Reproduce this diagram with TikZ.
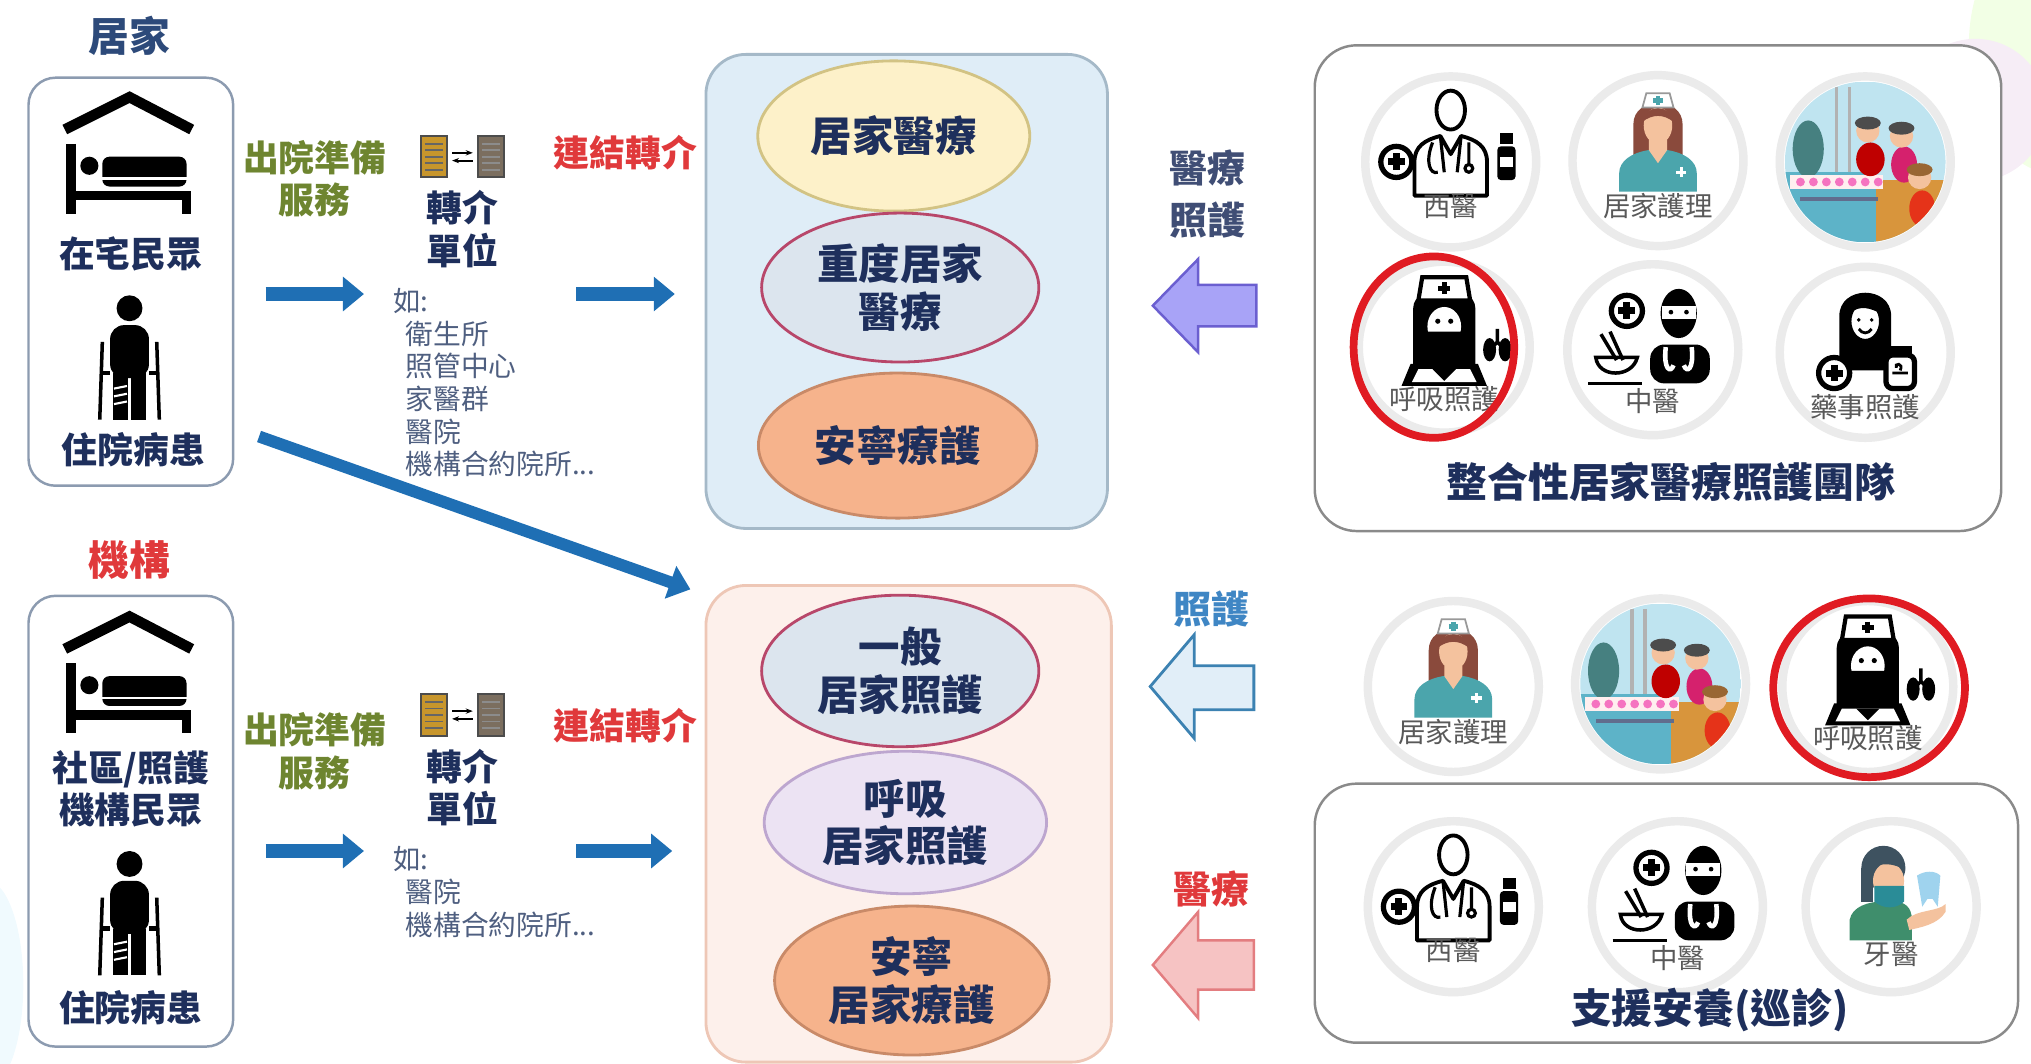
\documentclass[tikz,border=0pt]{standalone}
\usepackage{fontspec}
\setmainfont{Noto Sans CJK TC}
\usetikzlibrary{arrows.meta,shapes.geometric}

\definecolor{navy}{HTML}{1E2F5C}
\definecolor{titleblue}{HTML}{2D4A7A}
\definecolor{instred}{HTML}{E0393B}
\definecolor{olive}{HTML}{6E8530}
\definecolor{flowblue}{HTML}{1F6FB4}
\definecolor{listgrey}{HTML}{4F5F80}
\definecolor{boxline}{HTML}{8C9BB0}
\definecolor{medfill}{HTML}{DFEDF7}
\definecolor{medline}{HTML}{A5B9C8}
\definecolor{carefill}{HTML}{FDF0EB}
\definecolor{careline}{HTML}{EEC7B6}
\definecolor{ovyellow}{HTML}{FDF1C9}
\definecolor{ovyellowline}{HTML}{D2C384}
\definecolor{ovgrey}{HTML}{DCE5EE}
\definecolor{ovred}{HTML}{B8476A}
\definecolor{ovsalmon}{HTML}{F6B38C}
\definecolor{ovsalmonline}{HTML}{C98A68}
\definecolor{ovlilac}{HTML}{ECE3F3}
\definecolor{ovlilacline}{HTML}{BDA6CF}
\definecolor{arrpurple}{HTML}{A8A3F7}
\definecolor{arrpurpleline}{HTML}{6B5FD0}
\definecolor{arrblue}{HTML}{E1EEF8}
\definecolor{arrblueline}{HTML}{3C82B2}
\definecolor{arrpink}{HTML}{F6C3C3}
\definecolor{arrpinkline}{HTML}{E37D80}
\definecolor{careblue}{HTML}{3F86C4}
\definecolor{teamline}{HTML}{8A8A8A}
\definecolor{badgeline}{HTML}{EBEBEB}
\definecolor{ringred}{HTML}{E01B22}
\definecolor{skin}{HTML}{F4C29E}
\definecolor{hairbrown}{HTML}{8A4A3C}
\definecolor{scrubteal}{HTML}{4BA5AC}
\definecolor{docgold}{HTML}{C8962C}
\definecolor{docgrey}{HTML}{7B6E5F}
\definecolor{famsky}{HTML}{BFE4F0}
\definecolor{famteal}{HTML}{5DB3C8}
\definecolor{famorange}{HTML}{D8953C}
\definecolor{denthair}{HTML}{3E5260}
\definecolor{dentgreen}{HTML}{3F8E6C}
\definecolor{dentmask}{HTML}{2A8C97}
\definecolor{toothblue}{HTML}{9FD3EE}

\begin{document}
\begin{tikzpicture}[
        x=0.012953cm, y=-0.012953cm,
        >={Triangle[length=6pt,width=9.5pt]},
        every node/.style={align=center, inner sep=0pt},
        lbl/.style={font=\bfseries\fontsize{10.2}{12.2}\selectfont, text=navy},
        head/.style={font=\bfseries\fontsize{11.6}{13}\selectfont},
        listtext/.style={font=\fontsize{7.9}{9.3}\selectfont, text=listgrey, align=left},
        ovaltext/.style={font=\bfseries\fontsize{11.8}{13.6}\selectfont, text=navy},
        iconlabel/.style={font=\fontsize{7.8}{9}\selectfont, text=black!65},
        panelbox/.style={draw=boxline, line width=0.7pt, fill=white, rounded corners=0.27cm},
        groupbox/.style={rounded corners=0.4cm, line width=0.8pt},
        teambox/.style={draw=teamline, line width=0.7pt, fill=white, rounded corners=0.42cm},
        oval/.style={ellipse, line width=0.8pt, ovaltext},
        flow/.style={->, line width=3.8pt, flowblue},
        badge/.style={circle, draw=badgeline, line width=2.4pt, fill=white, minimum size=132*\px},
        ring/.style={ellipse, draw=ringred, line width=2.2pt},
        plusmark/.style={line width=1.5pt},
        % --- Icons ---
        home/.pic={
            \draw[line width=3pt, line join=miter] (-50,25) -- (0,0) -- (48,25);
            \draw[line width=2.8pt] (-45,36) -- (-45,90);
            \draw[line width=2.8pt] (-45,76) -- (44,76) -- (44,90);
            \fill (-31,53) circle[radius=7];
            \fill[rounded corners=2pt] (-21,46) rectangle (44,69);
            \fill[white] (-21,62) rectangle (44,64);
        },
        patient/.pic={
            \fill (0,0) circle[radius=10];
            \fill[rounded corners=4pt] (-15,13) rectangle (15,54);
            \fill (-13,50) rectangle (-1,86);
            \fill (1,50) rectangle (13,86);
            \draw[white, line width=0.6pt] (-12,62) -- (-2,60) (-12,68) -- (-2,66) (-12,74) -- (-2,72);
            \draw[line width=1pt] (-21,26) -- (-23,86) (21,26) -- (23,86);
            \draw[line width=1.4pt] (-21,50) -- (-15,50) (21,50) -- (15,50);
        },
        referral/.pic={
            \filldraw[fill=docgold, draw=black!70, line width=0.6pt] (-32,-16) rectangle (-12,16);
            \filldraw[fill=docgrey, draw=black!70, line width=0.6pt] (12,-16) rectangle (32,16);
            \foreach \dy in {-10,-5,...,10} {
                \draw[black!60, line width=0.5pt] (-29,\dy) -- (-15,\dy);
                \draw[black!45, line width=0.5pt] (15,\dy) -- (29,\dy);
            }
            \draw[-{Stealth[length=2pt]}, line width=0.6pt] (-8,-3) -- (8,-3);
            \draw[-{Stealth[length=2pt]}, line width=0.6pt] (8,3) -- (-8,3);
        },
        plus/.pic={
            \draw[plusmark] (0,0) circle[radius=12];
            \draw[line width=2pt] (0,-6.5) -- (0,6.5) (-6.5,0) -- (6.5,0);
        },
        doctor/.pic={
            \draw[line width=1.1pt] (0,-40) ellipse[x radius=11, y radius=15];
            \draw[line width=1.1pt, line join=round] (-28,26) -- (-28,0) .. controls (-28,-12) and (-20,-17) .. (-8,-20) -- (0,-6) -- (8,-20) .. controls (20,-17) and (28,-12) .. (28,0) -- (28,26) -- cycle;
            \draw[line width=0.9pt] (-8,-20) -- (-5,8) (8,-20) -- (5,8);
            \draw[line width=0.9pt] (-14,-15) .. controls (-20,0) and (-16,10) .. (-10,8);
            \draw[line width=0.9pt] (14,-15) -- (14,2) (14,5) circle[radius=3];
            \filldraw[fill=white, plusmark] (-42,0) circle[radius=12];
            \draw[line width=2pt] (-42,-6.5) -- (-42,6.5) (-48.5,0) -- (-35.5,0);
            \fill (38,-22) rectangle (48,-14);
            \fill[rounded corners=1pt] (36,-12) rectangle (50,14);
            \fill[white] (38,-4) rectangle (48,4);
            \node[iconlabel] at (0,34) {西醫};
        },
        nurse/.pic={
            \fill[hairbrown] (-19,4) -- (-19,-28) .. controls (-19,-50) and (19,-50) .. (19,-28) -- (19,4) -- cycle;
            \fill[scrubteal] (-30,24) -- (-30,10) .. controls (-30,0) and (-20,-6) .. (-8,-8) -- (8,-8) .. controls (20,-6) and (30,0) .. (30,10) -- (30,24) -- cycle;
            \fill[skin] (-7,-16) -- (7,-16) -- (7,-8) -- (0,2) -- (-7,-8) -- cycle;
            \fill[skin] (0,-27) ellipse[x radius=11, y radius=14];
            \fill[hairbrown] (-12,-30) .. controls (-10,-44) and (10,-44) .. (12,-30) .. controls (4,-36) and (-4,-36) .. (-12,-30);
            \filldraw[fill=white, draw=black!40, line width=0.5pt] (-12,-41) -- (12,-41) -- (9,-52) -- (-9,-52) -- cycle;
            \draw[scrubteal, line width=1.4pt] (0,-50) -- (0,-43) (-3.5,-46.5) -- (3.5,-46.5);
            \draw[white, line width=1pt] (18,5) -- (18,13) (14,9) -- (22,9);
            \node[iconlabel] at (0,35) {居家護理};
        },
        family/.pic={
            \begin{scope}
                \clip (0,0) circle[radius=62];
                \fill[famsky] (-62,-62) rectangle (62,62);
                \fill[famteal] (-62,8) rectangle (8,62);
                \fill[famorange] (8,14) rectangle (62,62);
                \fill[teal!45!gray] (-44,-10) ellipse[x radius=12, y radius=22];
                \draw[gray!60, line width=1pt] (-22,-58) -- (-22,8) (-12,-58) -- (-12,8);
                \fill[white!75!pink] (-58,10) rectangle (14,21);
                \foreach \dx in {-50,-40,...,10}
                    \fill[magenta!55] (\dx,15.5) circle[radius=3.4];
                \fill[navy!70] (-50,27) rectangle (10,30);
                \fill[red!75!black] (4,-2) ellipse[x radius=11, y radius=13];
                \fill[skin] (2,-24) circle[radius=9];
                \fill[black!70] (2,-30) ellipse[x radius=10, y radius=5];
                \fill[magenta!50!purple] (30,2) ellipse[x radius=10, y radius=14];
                \fill[skin] (28,-20) circle[radius=9];
                \fill[black!70] (28,-26) ellipse[x radius=10, y radius=5];
                \fill[red!60!brown] (44,36) ellipse[x radius=10, y radius=14];
                \fill[skin] (42,12) circle[radius=9];
                \fill[brown!80!black] (42,6) ellipse[x radius=10, y radius=5];
            \end{scope}
        },
        resp/.pic={
            \fill (-24,22) -- (-24,-30) .. controls (-24,-50) and (24,-50) .. (24,-30) -- (24,22) -- cycle;
            \filldraw[fill=white, draw=black, line width=1.2pt] (-20,-36) -- (-17,-54) -- (17,-54) -- (20,-36) -- cycle;
            \draw[line width=1.5pt] (0,-50) -- (0,-41) (-4.5,-45.5) -- (4.5,-45.5);
            \fill[white] (0,-16) ellipse[x radius=13, y radius=15];
            \fill (-13,-12) .. controls (-12,8) and (12,8) .. (13,-12) -- cycle;
            \fill (-5,-20) circle[radius=2] (5,-20) circle[radius=2];
            \fill (-33,30) -- (-26,13) -- (26,13) -- (33,30) -- cycle;
            \fill[white] (-25,27) -- (-20,17) -- (20,17) -- (25,27) -- cycle;
            \fill (-9,17) -- (0,26) -- (9,17) -- cycle;
            \fill (35,2) ellipse[x radius=5, y radius=9] (47,2) ellipse[x radius=5, y radius=9];
            \draw[line width=1pt] (41,-14) -- (41,-4) (41,-4) -- (37,0) (41,-4) -- (45,0);
            \node[iconlabel] at (0,40) {呼吸照護};
        },
        tcm/.pic={
            \filldraw[fill=white, plusmark] (-20,-30) circle[radius=12];
            \draw[line width=2pt] (-20,-36.5) -- (-20,-23.5) (-26.5,-30) -- (-13.5,-30);
            \fill (20,-28) ellipse[x radius=14, y radius=19];
            \fill[white] (7,-34) rectangle (33,-24);
            \fill (14,-29) circle[radius=1.8] (26,-29) circle[radius=1.8];
            \fill[rounded corners=4pt] (-2,-4) rectangle (44,26);
            \draw[white, line width=1.3pt] (10,-2) .. controls (8,16) and (14,18) .. (16,12) (30,-2) .. controls (32,16) and (26,18) .. (24,12);
            \draw[line width=1pt] (-44,6) .. controls (-42,22) and (-16,22) .. (-12,6) -- cycle;
            \draw[line width=1pt] (-40,-12) -- (-28,8) (-33,-14) -- (-23,8);
            \draw[line width=1pt] (-50,26) -- (-8,26);
            \node[iconlabel] at (0,40) {中醫};
        },
        pharm/.pic={
            \fill (-20,14) -- (-20,-28) .. controls (-20,-52) and (20,-52) .. (20,-28) -- (20,14) -- cycle;
            \filldraw[fill=white, draw=black, line width=1pt] (0,-24) ellipse[x radius=12, y radius=15];
            \fill (-12,-30) .. controls (-6,-43) and (10,-43) .. (12,-30) .. controls (4,-34) and (-4,-37) .. (-12,-30);
            \fill (-5,-25) circle[radius=1.5] (5,-25) circle[radius=1.5];
            \draw[line width=0.8pt] (-5,-18) .. controls (-2,-14) and (2,-14) .. (5,-18);
            \draw[line width=1.2pt] (-30,28) -- (-30,16) .. controls (-28,6) and (-14,2) .. (0,0) .. controls (14,2) and (28,6) .. (30,16) -- (30,28);
            \filldraw[fill=white, plusmark] (-24,16) circle[radius=12];
            \draw[line width=2pt] (-24,9.5) -- (-24,22.5) (-30.5,16) -- (-17.5,16);
            \filldraw[fill=white, line width=1.5pt, rounded corners=2pt] (16,2) rectangle (38,28);
            \fill (18,-5) rectangle (36,2);
            \draw[line width=0.8pt] (21,16) -- (33,16) (24,12) .. controls (22,8) and (30,8) .. (27,14);
            \node[iconlabel] at (0,42) {藥事照護};
        },
        dentist/.pic={
            \fill[dentgreen] (-32,26) -- (-32,10) .. controls (-30,0) and (-18,-4) .. (-6,-4) -- (2,-4) .. controls (10,-4) and (16,0) .. (16,10) -- (16,26) -- cycle;
            \fill[denthair] (-6,-30) ellipse[x radius=17, y radius=17];
            \fill[denthair] (-23,-30) rectangle (-14,-4);
            \fill[skin] (-2,-20) ellipse[x radius=12, y radius=14];
            \fill[denthair] (-14,-30) .. controls (-10,-44) and (8,-44) .. (11,-28) .. controls (2,-34) and (-8,-34) .. (-14,-30);
            \fill[dentmask] (-13,-16) -- (10,-16) -- (10,-4) .. controls (4,2) and (-6,2) .. (-13,-4) -- cycle;
            \fill[toothblue] (20,-24) .. controls (26,-28) and (34,-28) .. (38,-24) -- (36,0) -- (32,-6) -- (28,-6) -- (24,0) -- cycle;
            \fill[skin] (12,10) .. controls (20,2) and (36,4) .. (42,-2) -- (42,4) .. controls (36,14) and (22,16) .. (14,18) -- cycle;
            \node[iconlabel] at (0,37) {牙醫};
        }
    ]

        \def\px{0.012953cm}
        \useasboundingbox (0,0) rectangle (1568,821);

        % --- Hintergrund ---
        \fill[green!35!lime!10] (1590,35) ellipse[x radius=70, y radius=100];
        \fill[violet!7] (1525,85) ellipse[x radius=55, y radius=55];
        \fill[cyan!6] (-10,760) ellipse[x radius=28, y radius=80];

        % --- Linke Seite: Herkunft ---
        \node[head, text=titleblue] (homehead) at (100,28) {居家};
        \node[panelbox, minimum width=158*\px, minimum height=315*\px] (homebox) at (101,217.5) {};
        \pic at (100,75) {home};
        \node[lbl] (homepeople) at (101,196) {在宅民眾};
        \pic at (100,238) {patient};
        \node[lbl] (homepatient) at (103,347) {住院病患};

        \node[head, text=instred] (insthead) at (100,432) {機構};
        \node[panelbox, minimum width=158*\px, minimum height=348*\px] (instbox) at (101,634) {};
        \pic at (100,476) {home};
        \node[lbl] (instpeople) at (101,609) {社區/照護\\機構民眾};
        \pic at (100,667) {patient};
        \node[lbl] (instpatient) at (101,778) {住院病患};

        % --- Transfer-Einheiten ---
        \node[lbl, text=olive] (homeprep) at (243,138) {出院準備\\服務};
        \pic at (357,121) {referral};
        \node[lbl] (homeunit) at (357,177) {轉介\\單位};
        \node[listtext, anchor=north west] (homelist) at (303,222) {如:\\\hspace*{0.45em}衛生所\\\hspace*{0.45em}照管中心\\\hspace*{0.45em}家醫群\\\hspace*{0.45em}醫院\\\hspace*{0.45em}機構合約院所...};
        \node[lbl, text=instred] (homelink) at (483,118) {連結轉介};

        \node[lbl, text=olive] (instprep) at (243,580) {出院準備\\服務};
        \pic at (357,552) {referral};
        \node[lbl] (instunit) at (357,608) {轉介\\單位};
        \node[listtext, anchor=north west] (instlist) at (303,653) {如:\\\hspace*{0.45em}醫院\\\hspace*{0.45em}機構合約院所...};
        \node[lbl, text=instred] (instlink) at (483,560) {連結轉介};

        % --- Pfeile (blau) ---
        \coordinate (h1) at (205,227);
        \coordinate (h2) at (281,227);
        \coordinate (h3) at (445,227);
        \coordinate (h4) at (521,227);
        \coordinate (i1) at (205,657);
        \coordinate (i2) at (281,657);
        \coordinate (i3) at (445,657);
        \coordinate (i4) at (519,657);
        \coordinate (d1) at (200,337);
        \coordinate (d2) at (533,455);
        \draw[flow] (h1) -- (h2);
        \draw[flow] (h3) -- (h4);
        \draw[flow] (i1) -- (i2);
        \draw[flow] (i3) -- (i4);
        \draw[flow, line width=3.4pt] (d1) -- (d2);

        % --- Mitte: Leistungen ---
        \node[groupbox, draw=medline, fill=medfill, minimum width=310*\px, minimum height=366*\px] (medbox) at (700,225) {};
        \node[oval, draw=ovyellowline, fill=ovyellow, minimum width=210*\px, minimum height=116*\px] (homemed) at (690,105) {居家醫療};
        \node[oval, draw=ovred, fill=ovgrey, minimum width=214*\px, minimum height=115*\px] (severe) at (695,222) {重度居家\\醫療};
        \node[oval, draw=ovsalmonline, fill=ovsalmon, minimum width=215*\px, minimum height=112*\px] (hospice) at (693,344) {安寧療護};

        \node[groupbox, draw=careline, fill=carefill, minimum width=313*\px, minimum height=368*\px] (carebox) at (701.5,636) {};
        \node[oval, draw=ovred, fill=ovgrey, minimum width=214*\px, minimum height=117*\px] (general) at (695,518) {一般\\居家照護};
        \node[oval, draw=ovlilacline, fill=ovlilac, minimum width=218*\px, minimum height=110*\px] (breath) at (699,635) {呼吸\\居家照護};
        \node[oval, draw=ovsalmonline, fill=ovsalmon, minimum width=212*\px, minimum height=115*\px] (homehospice) at (704,757) {安寧\\居家療護};

        % --- Blockpfeile ---
        \node[lbl, font=\bfseries\fontsize{10.8}{14.7}\selectfont, text=navy!85] (medcare) at (932,150) {醫療\\照護};
        \filldraw[fill=arrpurple, draw=arrpurpleline, line width=0.7pt, line join=miter]
            (890,236) -- (925,200) -- (925,220) -- (970,220) -- (970,252) -- (925,252) -- (925,272) -- cycle;
        \node[lbl, font=\bfseries\fontsize{10.8}{13}\selectfont, text=careblue] (carelbl) at (935,470) {照護};
        \filldraw[fill=arrblue, draw=arrblueline, line width=0.8pt, line join=miter]
            (888,530) -- (922,490) -- (922,514) -- (968,514) -- (968,548) -- (922,548) -- (922,570) -- cycle;
        \node[lbl, font=\bfseries\fontsize{10.8}{13}\selectfont, text=instred] (medlbl) at (935,686) {醫療};
        \filldraw[fill=arrpink, draw=arrpinkline, line width=0.7pt, line join=miter]
            (890,745) -- (925,704) -- (925,726) -- (968,726) -- (968,764) -- (925,764) -- (925,786) -- cycle;

        % --- Rechts: Teams ---
        \node[teambox, minimum width=530*\px, minimum height=375*\px] (teambox) at (1280,222.5) {};
        \node[badge] (tw) at (1120,125) {};
        \node[badge] (tn) at (1280,124) {};
        \node[badge] (tf) at (1440,125) {};
        \node[badge] (tr) at (1115,268) {};
        \node[badge] (tc) at (1276,270) {};
        \node[badge] (tp) at (1440,272) {};
        \pic at (tw) {doctor};
        \pic at (tn) {nurse};
        \pic at (tf) {family};
        \pic at (tr) {resp};
        \pic at (tc) {tcm};
        \pic at (tp) {pharm};
        \node[ring, minimum width=124*\px, minimum height=140*\px] (trring) at (1107,268) {};
        \node[head, text=navy] (teamtitle) at (1290,372) {整合性居家醫療照護團隊};

        \node[badge] (cn) at (1122,530) {};
        \node[badge] (cf) at (1282,528) {};
        \node[badge] (cr) at (1442,530) {};
        \pic at (cn) {nurse};
        \pic at (cf) {family};
        \pic at (cr) {resp};
        \node[ring, minimum width=148*\px, minimum height=138*\px] (crring) at (1443,531) {};

        \node[teambox, minimum width=543*\px, minimum height=200*\px] (supportbox) at (1286.5,705) {};
        \node[badge] (sw) at (1122,700) {};
        \node[badge] (sc) at (1295,700) {};
        \node[badge] (sd) at (1460,700) {};
        \pic at (sw) {doctor};
        \pic at (sc) {tcm};
        \pic at (sd) {dentist};
        \node[head, text=navy] (supporttitle) at (1320,780) {支援安養(巡診)};

\end{tikzpicture}
\end{document}
